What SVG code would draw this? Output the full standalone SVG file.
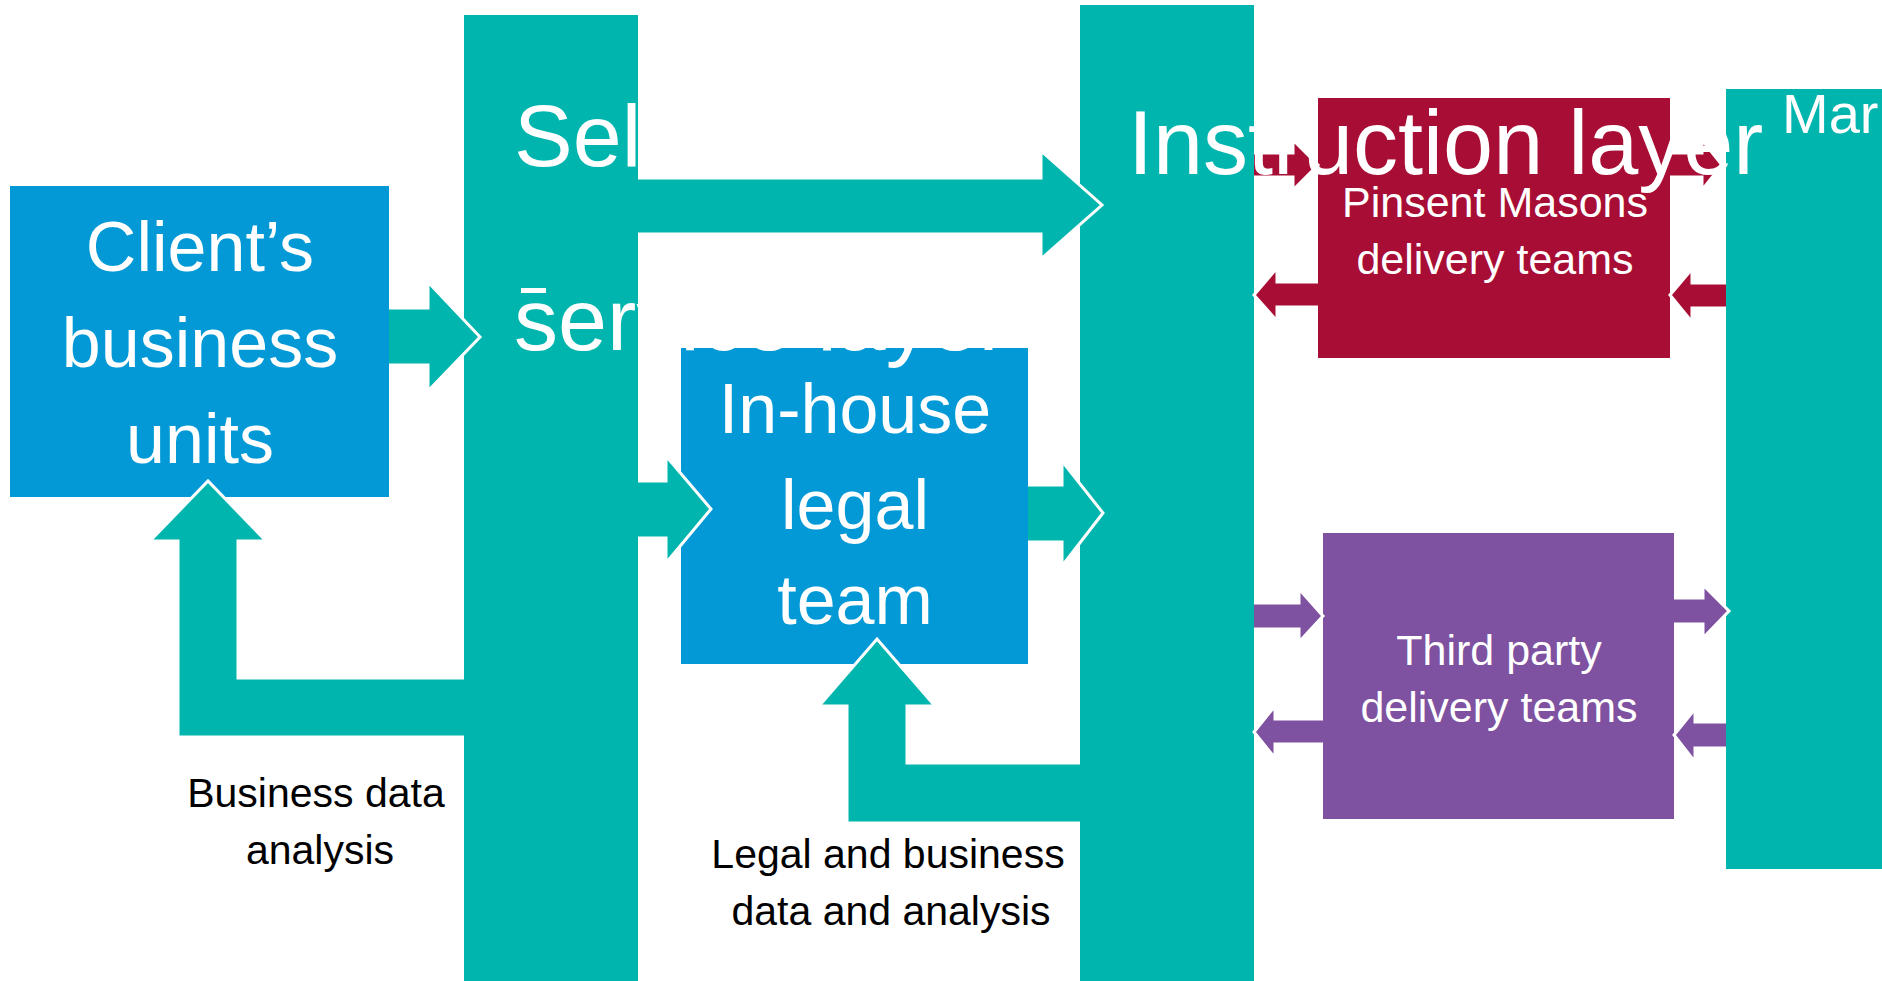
<svg xmlns="http://www.w3.org/2000/svg" width="1882" height="981" viewBox="0 0 1882 981">
<style>
.bg{fill:#ffffff}
.teal{fill:#00B5AD}
.blue{fill:#0299D6}
.red{fill:#A80D35}
.purple{fill:#7E52A0}
.arrow{stroke:#ffffff;stroke-width:3;stroke-linejoin:miter}
.wt{fill:#ffffff;font-family:"Liberation Sans",Arial,sans-serif}
.big{font-size:70px;text-anchor:middle}
.layer{font-size:88px}
.mid{font-size:43px;text-anchor:middle}
.lbl{fill:#000000;font-family:"Liberation Sans",Arial,sans-serif;font-size:41px;text-anchor:middle}
</style>
<rect class="bg" x="0" y="0" width="1882" height="981"/>
<g id="service-layer"><rect class="teal" x="464" y="15" width="174" height="966"/></g>
<g id="instruction-layer"><rect class="teal" x="1080" y="5" width="174" height="976"/></g>
<g id="market-layer"><rect class="teal" x="1726" y="89" width="156" height="780"/></g>
<g id="client-units">
<rect class="blue" x="10" y="186" width="379" height="311"/>
<text class="wt big" x="200" y="271">Client’s</text>
<text class="wt big" x="200" y="367">business</text>
<text class="wt big" x="200" y="463">units</text>
</g>
<g id="inhouse-team">
<rect class="blue" x="681" y="348" width="347" height="316"/>
<text class="wt big" x="855" y="433">In-house</text>
<text class="wt big" x="855" y="529">legal</text>
<text class="wt big" x="855" y="624">team</text>
</g>
<g id="pinsent-teams">
<rect class="red" x="1318" y="98" width="352" height="260"/>
<text class="wt mid" x="1495" y="217">Pinsent Masons</text>
<text class="wt mid" x="1495" y="274">delivery teams</text>
</g>
<g id="third-party-teams">
<rect class="purple" x="1323" y="533" width="351" height="286"/>
<text class="wt mid" x="1499" y="665">Third party</text>
<text class="wt mid" x="1499" y="722">delivery teams</text>
</g>
<g id="connectors">
<path class="teal arrow" d="M389,365 L428,365 L428,391 L480,337 L428,282 L428,308 L389,308"/>
<path class="teal arrow" d="M638,234 L1041,234 L1041,259 L1102,205 L1041,151 L1041,178 L638,178"/>
<path class="teal arrow" d="M638,538 L666,538 L666,563 L711,509 L666,456 L666,481 L638,481"/>
<path class="teal arrow" d="M1028,542 L1062,542 L1062,566 L1103,513 L1062,461 L1062,485 L1028,485"/>
<path class="teal arrow" d="M464,737 L178,737 L178,541 L150,541 L208,481 L266,541 L238,541 L238,678 L464,678"/>
<path class="teal arrow" d="M1080,823 L847,823 L847,706 L819,706 L877,639 L935,706 L907,706 L907,763 L1080,763"/>
<path class="red arrow" d="M1254,177 L1293,177 L1293,190 L1318,165 L1293,140 L1293,153 L1254,153"/>
<path class="red arrow" d="M1670,177 L1702,177 L1702,190 L1722,165 L1702,140 L1702,153 L1670,153"/>
<path class="red arrow" d="M1318,307 L1277,307 L1277,321 L1254,295 L1277,268 L1277,282 L1318,282"/>
<path class="red arrow" d="M1726,308 L1692,308 L1692,322 L1670,295 L1692,269 L1692,283 L1726,283"/>
<path class="purple arrow" d="M1254,629 L1299,629 L1299,642 L1323,616 L1299,589 L1299,603 L1254,603"/>
<path class="purple arrow" d="M1674,624 L1703,624 L1703,638 L1729,611 L1703,585 L1703,598 L1674,598"/>
<path class="purple arrow" d="M1323,744 L1275,744 L1275,758 L1254,732 L1275,706 L1275,719 L1323,719"/>
<path class="purple arrow" d="M1726,748 L1695,748 L1695,762 L1674,735 L1695,709 L1695,722 L1726,722"/>
</g>
<g id="layer-titles">
<rect fill="#ffffff" x="521" y="288" width="25" height="5"/>
<text class="wt layer" x="514" y="166">Self-</text>
<text class="wt layer" x="514" y="350">service layer</text>
<text class="wt" style="font-size:90px" x="1128" y="174">Instruction layer</text>
<text class="wt" style="font-size:56px" x="1782" y="133">Mar</text>
</g>
<g id="flow-labels">
<text class="lbl" x="316" y="807">Business data</text>
<text class="lbl" x="320" y="864">analysis</text>
<text class="lbl" x="888" y="868">Legal and business</text>
<text class="lbl" x="891" y="925">data and analysis</text>
</g>
</svg>
